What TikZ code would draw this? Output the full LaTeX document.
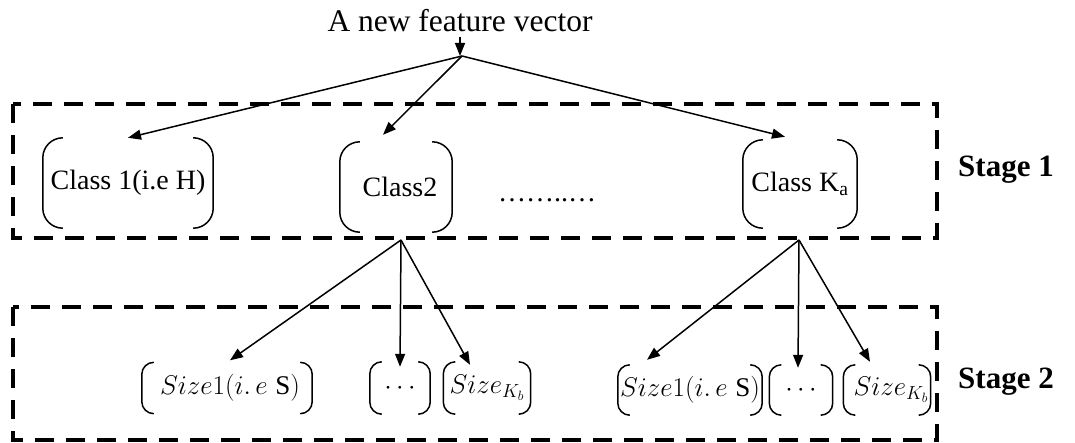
\documentclass[tikz,border=0pt]{standalone}
\usepackage{fix-cm}
\usepackage{fontspec}
\setmainfont{Liberation Serif}
\usetikzlibrary{arrows.meta}
\tikzset{
  stagebox/.style={draw, line width=3.5pt, dash pattern=on 19pt off 12pt},
  brkline/.style={line width=1.5pt},
  cls/.style={inner sep=0pt, font=\fontsize{28}{33}\selectfont},
  sz/.style={inner sep=0pt, font=\fontsize{27}{32}\selectfont},
  lbl/.style={inner sep=0pt, anchor=base, font=\fontsize{31}{37}\selectfont\bfseries},
  arr/.style={line width=1.5pt, -{Triangle[length=13pt,width=10pt]}},
}
\newcommand{\brkt}[2]{%
  \draw[brkline, rounded corners=#2] ([xshift=#2]#1.north west) -- (#1.north west) -- (#1.south west) -- ([xshift=#2]#1.south west);
  \draw[brkline, rounded corners=#2] ([xshift=-#2]#1.north east) -- (#1.north east) -- (#1.south east) -- ([xshift=-#2]#1.south east);}
\newcommand{\sizeone}{$Size1(i.\,e\;\mbox{S})$}
\begin{document}
\begin{tikzpicture}[x=1pt,y=-1pt]
\useasboundingbox (0,0) rectangle (1075,443);
% stage boxes
\draw[stagebox] (13,104) rectangle (937,238);
\draw[stagebox] (13,307) rectangle (937,440);
% title
\node[inner sep=0pt, anchor=base, font=\fontsize{31.5}{38}\selectfont] (title) at (460,32) {A new feature vector};
\coordinate (v0) at (462,56);
% stage 1
\node[cls, minimum width=170pt, minimum height=90pt] (c1) at (128,183) {Class 1(i.e H)};
\node[cls, minimum width=112pt, minimum height=90pt] (c2) at (396,187) {\hspace*{8pt}Class2};
\node[cls, minimum width=114pt, minimum height=88pt] (ck) at (800,184) {Class K\textsubscript{a}};
\node[cls] (dots) at (547,200) {……..…};
\brkt{c1}{20pt}
\brkt{c2}{20pt}
\brkt{ck}{20pt}
\node[lbl] (st1) at (1006,177) {Stage 1};
% stage 2
\coordinate (v2) at (401,240);
\coordinate (v3) at (799,240);
\node[sz, minimum width=170pt, minimum height=51pt] (s1a) at (227,388) {\hspace*{6pt}\sizeone};
\node[sz, minimum width=60pt, minimum height=52pt] (d1) at (400,388) {$\cdots$};
\node[sz, minimum width=87pt, minimum height=52pt] (k1) at (487,388) {$Size_{K_b}$};
\node[sz, minimum width=144pt, minimum height=50pt] (s1b) at (690,390) {\sizeone};
\node[sz, minimum width=63pt, minimum height=50pt] (d2) at (801,390) {$\cdots$};
\node[sz, minimum width=87pt, minimum height=50pt] (k2) at (887,390) {\hspace*{8pt}\raisebox{3pt}{$Size_{K_b}$}};
\brkt{s1a}{12pt}
\brkt{d1}{12pt}
\brkt{k1}{12pt}
\brkt{s1b}{12pt}
\brkt{d2}{12pt}
\brkt{k2}{12pt}
\node[lbl] (st2) at (1006,388) {Stage 2};
% connectors
\draw[arr] ([yshift=-4pt]title.south) -- ([xshift=-2pt]v0);
\draw[arr] (v0) -- (c1.north);
\draw[arr] (v0) -- ([xshift=-13pt,yshift=7pt]c2.north);
\draw[arr] (v0) -- ([xshift=-15pt,yshift=3pt]ck.north);
\draw[arr] (v2) -- ([xshift=3pt,yshift=2pt]s1a.north);
\draw[arr] (v2) -- ([yshift=-5pt]d1.north);
\draw[arr] (v2) -- ([xshift=-17pt,yshift=-3pt]k1.north);
\draw[arr] (v3) -- ([xshift=-43pt,yshift=5pt]s1b.north);
\draw[arr] (v3) -- ([xshift=-3pt,yshift=-3pt]d2.north);
\draw[arr] (v3) -- ([xshift=-17pt,yshift=3pt]k2.north);
\end{tikzpicture}
\end{document}
